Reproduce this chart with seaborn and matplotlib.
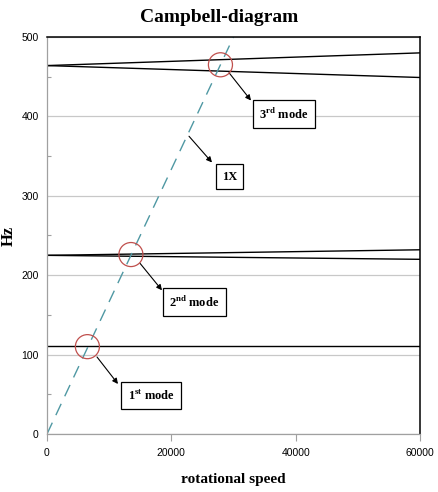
import numpy as np
import pandas as pd
import matplotlib
matplotlib.use("Agg")
import matplotlib.pyplot as plt
import seaborn as sns

sns.set_style("white")
plt.rcParams.update({
    'font.family': ['Liberation Sans', 'DejaVu Sans'],
    'mathtext.fontset': 'custom',
    'mathtext.rm': 'Liberation Serif:bold',
    'mathtext.bf': 'Liberation Serif:bold',
    'text.color': 'black',
    'axes.labelcolor': 'black',
    'xtick.color': 'black',
    'ytick.color': 'black',
})

# data
speed = [0, 60000]
mode1 = [111, 111]
mode2_fw = [225, 232]
mode2_bw = [225, 220]
mode3_fw = [464, 480]
mode3_bw = [464, 449]
speed_1x = [0, 30000]
freq_1x = [0, 500]
cross_speed = [6500, 13500, 27900]
cross_freq = [110, 226, 465]

fig = plt.figure(figsize=(4.38, 4.92), dpi=100)
ax = fig.add_axes([0.1073, 0.1179, 0.8516, 0.8069])

for ys in [mode1, mode2_fw, mode2_bw, mode3_fw, mode3_bw]:
    sns.lineplot(x=speed, y=ys, ax=ax, color='black', lw=1.0)

sns.lineplot(x=speed_1x, y=freq_1x, ax=ax, color='#4f98a3', lw=1.0)
ax.lines[-1].set_dashes((9, 6))

ax.scatter(cross_speed, cross_freq, s=300, facecolors='none',
           edgecolors='#c0504d', linewidths=0.9, zorder=5)

ax.set_xlim(0, 60000)
ax.set_ylim(0, 500)
ax.set_xticks([0, 20000, 40000, 60000])
ax.set_yticks([0, 100, 200, 300, 400, 500])
ax.set_yticks([50, 150, 250, 350, 450], minor=True)
ax.yaxis.grid(True, which='major', color='#c8c8c8', lw=0.9)
ax.set_axisbelow(True)

for side in ['left', 'bottom']:
    ax.spines[side].set_color('#a0a0a0')
    ax.spines[side].set_linewidth(0.9)
for side in ['top', 'right']:
    ax.spines[side].set_color('black')
    ax.spines[side].set_linewidth(1.1)

ax.tick_params(axis='x', which='major', direction='out', length=5, width=0.8,
               color='#a0a0a0', labelsize=7.5, pad=5, bottom=True)
ax.tick_params(axis='y', which='major', length=0, labelsize=7.5, pad=6)
ax.tick_params(axis='y', which='minor', direction='in', length=3, width=0.8,
               color='#a0a0a0', left=True)

serif = dict(family='Liberation Serif', fontweight='bold')
ax.set_xlabel('rotational speed', fontsize=11, labelpad=11, **serif)
ax.set_ylabel('Hz', fontsize=12, labelpad=3, **serif)
fig.suptitle('Campbell-diagram', fontsize=14, y=0.982, **serif)

box = dict(boxstyle='square,pad=0.5', fc='white', ec='black', lw=0.9)
arrow = dict(arrowstyle='-|>', color='black', lw=0.8, mutation_scale=8,
             shrinkA=0, shrinkB=0)

# (label, box centre, arrow tail, arrow head) in data units
notes = [
    (r'1$^{\mathrm{st}}$ mode', (16730, 48), (8043, 97), (11420, 63)),
    (r'2$^{\mathrm{nd}}$ mode', (23730, 166), (14960, 215), (18500, 181)),
    (r'3$^{\mathrm{rd}}$ mode', (38120, 403), (29280, 455), (32815, 420)),
    ('1X', (29360, 324), (22842, 375), (26540, 342)),
]
for label, centre, tail, head in notes:
    ax.annotate('', xy=head, xytext=tail, arrowprops=arrow)
    ax.text(centre[0], centre[1], label, ha='center', va='center',
            fontsize=9, bbox=box, zorder=6, **serif)

fig.savefig('out.png', dpi=100)
